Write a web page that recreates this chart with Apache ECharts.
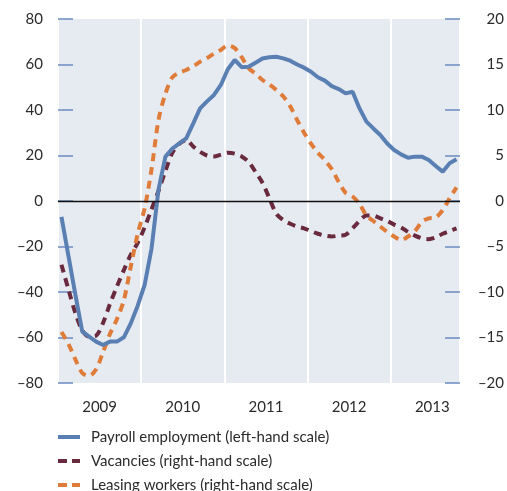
<!DOCTYPE html>
<html>
<head>
<meta charset="utf-8">
<script src="https://cdn.jsdelivr.net/npm/echarts@6/dist/echarts.min.js"></script>
<style>html,body{margin:0;padding:0;background:#fff}#c{width:507px;height:491px}</style>
</head>
<body>
<div id="c"></div>
<script>
// Monthly data, Jan 2009 – Oct 2013
var years = ['2009', '2010', '2011', '2012', '2013'];
var leftTicks = [-80, -60, -40, -20, 0, 20, 40, 60, 80];
var rightTicks = [-20, -15, -10, -5, 0, 5, 10, 15, 20];
var seriesNames = ['Payroll employment (left-hand scale)', 'Vacancies (right-hand scale)', 'Leasing workers (right-hand scale)'];

var payroll = [-7, -24, -41, -57.4, -59.6, -61.8, -63.3, -61.8, -61.8, -59.9, -53.8, -46, -36.9, -20.8, 5, 19.5,
  23, 25.3, 27.5, 34, 40.7, 43.8, 46.6, 51, 57.9, 62, 58.8, 59, 60.8, 62.6, 63.2, 63.4, 62.7, 61.7, 60, 58.6,
  56.8, 54.4, 52.9, 50.5, 49.2, 47.3, 48, 40.7, 34.9, 31.9, 29, 25.3, 22.4, 20.5, 19, 19.5, 19.5, 18, 15.4, 12.9, 16.6, 18.3];

var vacancies = [-7, -9.7, -12.3, -14.2, -14.9, -14.8, -13.4, -11.3, -9.4, -7.6, -5.9, -4.6, -2.9, -0.9, 1.1, 3.3,
  5.3, 6.3, 6.7, 6.0, 5.4, 5.0, 4.9, 5.1, 5.3, 5.2, 4.9, 4.3, 3.2, 2.0, 0.3, -1.4, -2.1, -2.5, -2.8, -3.0,
  -3.3, -3.6, -3.8, -3.9, -3.8, -3.7, -3.0, -2.2, -1.6, -1.6, -1.9, -2.2, -2.6, -2.9, -3.4, -3.8, -4.1, -4.2, -4.0, -3.6, -3.3, -3.0];

var leasing = [-14.4, -15.7, -17.4, -18.9, -19.2, -18.5, -16.6, -14.6, -13.0, -10.9, -7.2, -3.6, -0.8, 3.5, 8.9, 11.8,
  13.6, 14.1, 14.4, 14.8, 15.3, 15.7, 16.2, 16.6, 17.1, 16.8, 15.8, 14.6, 14.0, 13.3, 12.8, 12.2, 11.5, 10.4, 8.9, 7.5,
  6.3, 5.3, 4.5, 3.5, 2.1, 0.9, 0.5, -0.3, -1.6, -2.2, -2.8, -3.4, -3.9, -4.3, -3.9, -3.3, -2.3, -1.9, -1.8, -1.0, 0.3, 1.5];

function pairs(arr) { return arr.map(function (v, i) { return [i + 0.5, v]; }); }
function dash(v) { return String(v).replace('-', '\u2013'); }

var FONT = 'Lato';
var TXT = '#2b2b2b';
var BLUE = '#5a7fb2';
var MAROON = '#6a2a3d';
var ORANGE = '#e07c3a';
var TICK = '#6b8cc0';

var SOLID_ICON = 'path://M0,0H22V4H0Z';
var DASH_ICON = 'path://M0,0H9V4H0Z M14,0H22V4H14Z';

var chart = echarts.init(document.getElementById('c'));
chart.setOption({
  animation: false,
  backgroundColor: '#ffffff',
  grid: { left: 58, right: 47, top: 19, bottom: 108, show: true, backgroundColor: '#e6ebf2', borderWidth: 0 },
  legend: {
    orient: 'vertical', left: 58, top: 428, width: 440, height: 90, padding: 0,
    itemWidth: 22, itemHeight: 4, itemGap: 6,
    textStyle: { fontFamily: FONT, fontSize: 15, color: TXT, lineHeight: 18, padding: [0, 0, 0, 6] },
    data: [
      { name: seriesNames[0], icon: SOLID_ICON },
      { name: seriesNames[1], icon: DASH_ICON },
      { name: seriesNames[2], icon: DASH_ICON }
    ]
  },
  xAxis: {
    type: 'value', min: 0, max: 58, interval: 12,
    axisLine: { show: false }, axisTick: { show: false },
    splitLine: { show: true, lineStyle: { color: '#ffffff', width: 2 } },
    axisLabel: {
      customValues: [6, 18, 30, 42, 54],
      formatter: function (v) { return years[Math.round((v - 6) / 12)]; },
      margin: 17, fontFamily: FONT, fontSize: 15, color: TXT
    }
  },
  yAxis: [
    {
      type: 'value', min: -80, max: 80, interval: 20, position: 'left',
      axisLine: { show: false },
      axisTick: { show: true, inside: true, length: 15, lineStyle: { color: TICK, width: 1.5 } },
      splitLine: { show: false },
      axisLabel: { formatter: dash, margin: 15, fontFamily: FONT, fontSize: 15, color: TXT }
    },
    {
      type: 'value', min: -20, max: 20, interval: 5, position: 'right',
      axisLine: { show: false },
      axisTick: { show: true, inside: true, length: 15, lineStyle: { color: TICK, width: 1.5 } },
      splitLine: { show: false },
      axisLabel: { formatter: dash, margin: 44, align: 'right', fontFamily: FONT, fontSize: 15, color: TXT }
    }
  ],
  series: [
    {
      name: seriesNames[0], type: 'line', yAxisIndex: 0, data: pairs(payroll), symbol: 'none', z: 4,
      lineStyle: { color: BLUE, width: 4 }, itemStyle: { color: BLUE },
      markLine: { silent: true, symbol: 'none', label: { show: false },
        lineStyle: { color: '#111', width: 1.3, type: 'solid' }, data: [{ yAxis: 0 }] }
    },
    {
      name: seriesNames[1], type: 'line', yAxisIndex: 1, data: pairs(vacancies), symbol: 'none', smooth: 0.3, z: 3,
      lineStyle: { color: MAROON, width: 4, type: [8, 6], cap: 'butt' }, itemStyle: { color: MAROON }
    },
    {
      name: seriesNames[2], type: 'line', yAxisIndex: 1, data: pairs(leasing), symbol: 'none', smooth: 0.3, z: 3,
      lineStyle: { color: ORANGE, width: 4, type: [8, 6], cap: 'butt' }, itemStyle: { color: ORANGE }
    }
  ]
});
</script>
</body>
</html>
